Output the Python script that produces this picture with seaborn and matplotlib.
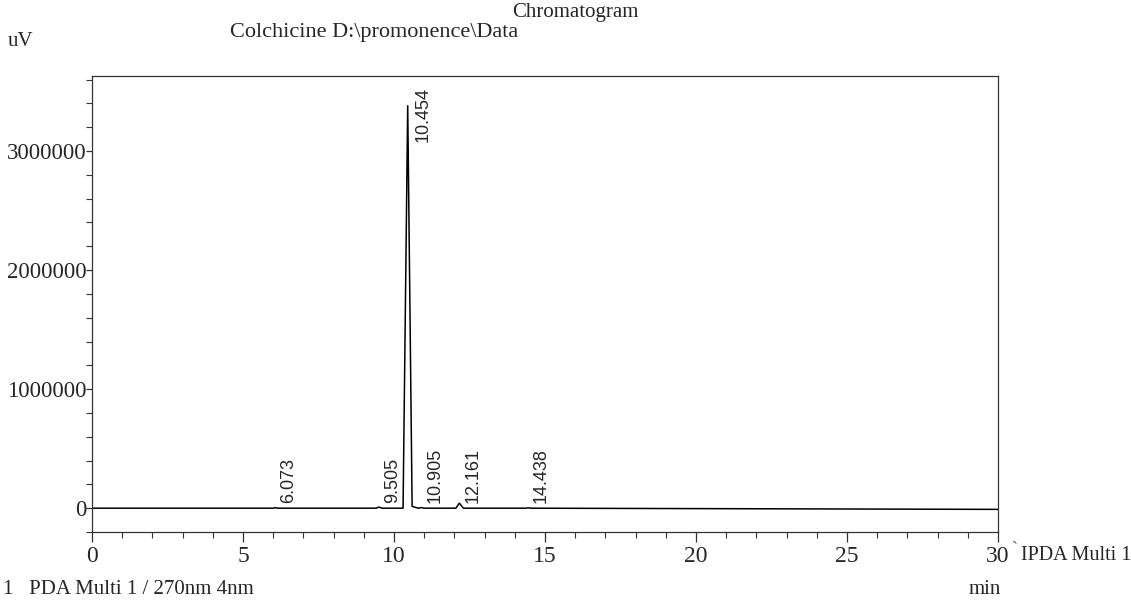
import matplotlib
matplotlib.use("Agg")
import matplotlib.pyplot as plt
from matplotlib.ticker import MultipleLocator
import seaborn as sns
import pandas as pd

# trace (min, uV)
times = [0.0, 6.0, 6.073, 6.15, 9.40, 9.505, 9.60, 10.30, 10.454, 10.60, 10.80,
         10.905, 11.0, 12.05, 12.161, 12.30, 14.35, 14.438, 14.55, 30.0]
signal = [0, 0, 4000, 0, 0, 9000, 0, 0, 3380000, 15000, 0,
          5000, 0, 0, 42000, 0, 0, 3000, 0, -10000]

peak_rt = [6.073, 9.505, 10.454, 10.905, 12.161, 14.438]
peak_labels = ["6.073", "9.505", "10.454", "10.905", "12.161", "14.438"]
peak_big = [False, False, True, False, False, False]

x_ticks = [0, 5, 10, 15, 20, 25, 30]
y_ticks = [0, 1000000, 2000000, 3000000]

sns.set_style("ticks")
plt.rcParams['font.family'] = ['Liberation Serif', 'DejaVu Serif']

fig = plt.figure(figsize=(11.31, 6.0), dpi=100)
ax = fig.add_axes([92 / 1131, 1 - 532 / 600, 906 / 1131, 456 / 600])

df = pd.DataFrame({"min": times, "uV": signal})
sns.lineplot(data=df, x="min", y="uV", ax=ax, color="black", linewidth=1.1)

ax.set_xlim(0, 30)
ax.set_ylim(-200000, 3630000)
ax.set_xticks(x_ticks)
ax.set_xticklabels([str(t) for t in x_ticks])
ax.set_yticks(y_ticks)
ax.set_yticklabels([str(t) for t in y_ticks])
ax.xaxis.set_minor_locator(MultipleLocator(1))
ax.yaxis.set_minor_locator(MultipleLocator(200000))
ax.tick_params(axis="x", which="major", direction="out", length=7, width=0.9,
               color="#333333", labelsize=17, pad=3)
ax.tick_params(axis="y", which="major", direction="out", length=4, width=0.9,
               color="#333333", labelsize=16.5, pad=0)
ax.tick_params(axis="both", which="minor", direction="out", length=4, width=0.8,
               color="#333333")
ax.set_xlabel("")
ax.set_ylabel("")
for s in ax.spines.values():
    s.set_visible(True)
    s.set_linewidth(0.9)
    s.set_color("#333333")

# peak retention time labels
for rt, lab, big in zip(peak_rt, peak_labels, peak_big):
    if big:
        ax.text(rt + 0.5, 3540000, lab, rotation=90, ha="center", va="top",
                fontsize=13, family="Liberation Sans")
    else:
        ax.text(rt + 0.45, 40000, lab, rotation=90, ha="center", va="bottom",
                fontsize=13, family="Liberation Sans")

fig.text(575 / 1131, 1 - 12 / 600, "Chromatogram", ha="center", va="center", fontsize=15)
fig.text(230 / 1131, 1 - 32 / 600, "Colchicine D:\\promonence\\Data", ha="left", va="center",
         fontsize=16)
fig.text(8 / 1131, 1 - 42 / 600, "uV", ha="left", va="center", fontsize=15)
fig.text(1012 / 1131, 1 - 549 / 600, "`", ha="left", va="center", fontsize=13, color="#666666")
fig.text(1021 / 1131, 1 - 555 / 600, "IPDA Multi 1", ha="left", va="center", fontsize=14.5)
fig.text(985 / 1131, 1 - 590 / 600, "min", ha="center", va="center", fontsize=15)
fig.text(3 / 1131, 1 - 599 / 600, "1   PDA Multi 1 / 270nm 4nm", ha="left", va="bottom", fontsize=15)

fig.savefig("out.png", dpi=100)
